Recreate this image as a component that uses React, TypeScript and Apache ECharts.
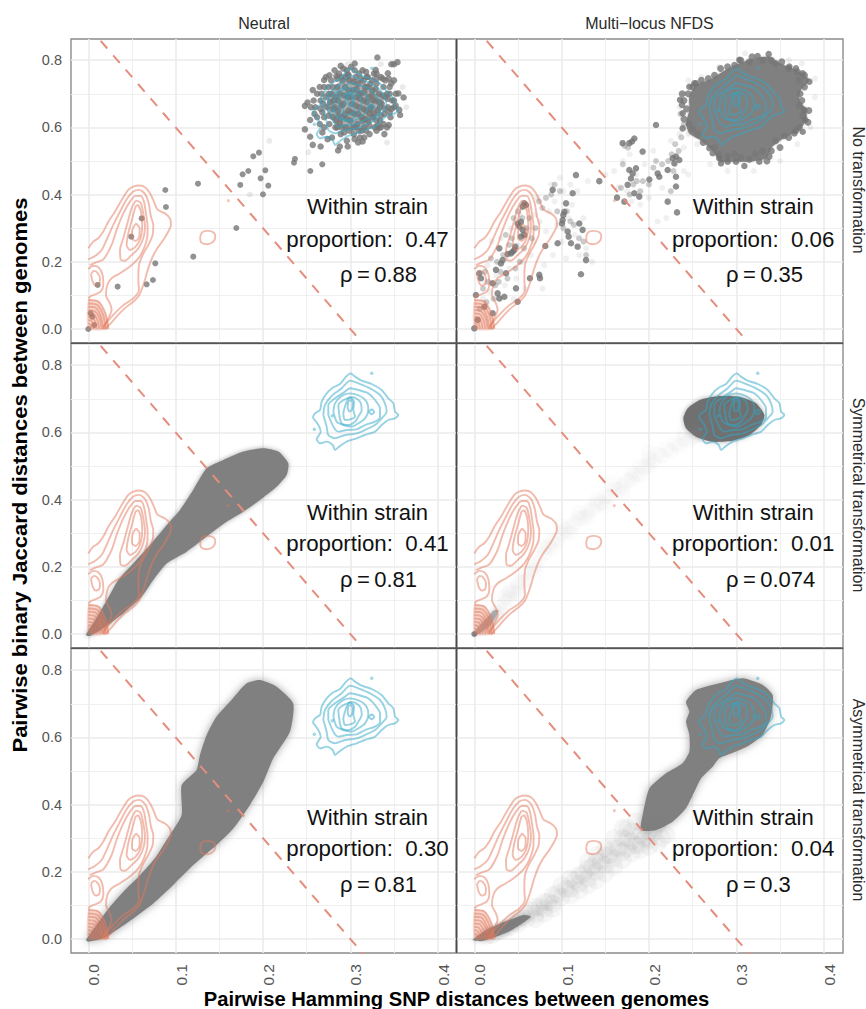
import React, { useEffect, useRef } from "react";
import * as echarts from "echarts";

const FONT = '"Liberation Sans", Arial, sans-serif';

const columnTitles = ["Neutral", "Multi\u2212locus NFDS"];
const rowTitles = ["No transformation", "Symmetrical transformation", "Asymmetrical transformation"];
const proportions = ["0.47", "0.06", "0.41", "0.01", "0.30", "0.04"];
const rhos = ["0.88", "0.35", "0.81", "0.074", "0.81", "0.3"];

const xTicks = [0, 0.1, 0.2, 0.3, 0.4];
const yTicks = [0, 0.2, 0.4, 0.6, 0.8];
const xMinorGrid = [0.05, 0.15, 0.25, 0.35];
const yMinorGrid = [0.1, 0.3, 0.5, 0.7];
const dashedLine = [[0, 0.9], [0.32, -0.06]];

// Red (between-strain) density contours
const red1 = [[0,0.24],[0.0057,0.26],[0.0115,0.27],[0.0172,0.29],[0.0229,0.319],[0.0305,0.349],[0.0382,0.384],[0.0458,0.414],[0.0515,0.424],[0.0584,0.427],[0.0649,0.422],[0.0706,0.404],[0.0752,0.379],[0.079,0.356],[0.0878,0.344],[0.0935,0.329],[0.0947,0.31],[0.0916,0.29],[0.0859,0.265],[0.079,0.24],[0.0737,0.215],[0.0687,0.181],[0.0637,0.136],[0.0584,0.101],[0.0515,0.081],[0.042,0.062],[0.0324,0.037],[0.024,0.012],[0.0191,0]];
const red2 = [[0,0.207],[0.0076,0.217],[0.0153,0.235],[0.0218,0.27],[0.0286,0.31],[0.0363,0.349],[0.0439,0.386],[0.0515,0.409],[0.0584,0.414],[0.0649,0.402],[0.0691,0.374],[0.0718,0.334],[0.0744,0.31],[0.0737,0.28],[0.0687,0.25],[0.0622,0.22],[0.058,0.19],[0.0573,0.146],[0.058,0.116],[0.0515,0.091],[0.0401,0.071],[0.0286,0.042],[0.0172,0.007]];
const red3 = [[0.0019,0.19],[0.0076,0.197],[0.0172,0.207],[0.0267,0.25],[0.0324,0.295],[0.0401,0.344],[0.0477,0.379],[0.0542,0.396],[0.0599,0.396],[0.0637,0.379],[0.066,0.344],[0.0679,0.305],[0.0676,0.275],[0.0637,0.24],[0.0573,0.21],[0.0477,0.186],[0.0363,0.166],[0.0267,0.151],[0.0218,0.131],[0.0202,0.101],[0.0248,0.076],[0.0267,0.057],[0.021,0.022],[0.0172,0]];
const red4 = [[0.0542,0.382],[0.0599,0.376],[0.063,0.344],[0.0649,0.305],[0.063,0.27],[0.0573,0.24],[0.0496,0.22],[0.042,0.203],[0.037,0.207],[0.0363,0.235],[0.0401,0.27],[0.0447,0.314],[0.0496,0.359],[0.0542,0.382]];
const red5 = [[0.0573,0.369],[0.0603,0.349],[0.0618,0.31],[0.0599,0.27],[0.0542,0.245],[0.0477,0.235],[0.0439,0.25],[0.0458,0.285],[0.0504,0.329],[0.0542,0.364],[0.0573,0.369]];
const red6 = [[0.0546,0.314],[0.0588,0.3],[0.0584,0.275],[0.0542,0.262],[0.05,0.27],[0.0504,0.295],[0.0546,0.314]];
const redLobe1 = [[0,0.178],[0.0057,0.188],[0.0115,0.184],[0.016,0.164],[0.0172,0.131],[0.0141,0.111],[0.0088,0.104],[0.0027,0.098],[0,0.091]];
const redLobe2 = [[0.0031,0.164],[0.0065,0.173],[0.0103,0.168],[0.0134,0.151],[0.0126,0.134],[0.0088,0.129],[0.005,0.141],[0.0031,0.164]];
const redFan1 = [[0,0.086],[0.0115,0.082],[0.0195,0.047],[0.0229,0]];
const redFan2 = [[0,0.076],[0.01,0.072],[0.017,0.042],[0.02,0]];
const redFan3 = [[0,0.066],[0.0086,0.063],[0.0146,0.036],[0.0172,0]];
const redFan4 = [[0,0.056],[0.0076,0.053],[0.013,0.031],[0.0153,0]];
const redFan5 = [[0,0.046],[0.0063,0.044],[0.0107,0.025],[0.0126,0]];
const redFan6 = [[0,0.036],[0.0048,0.034],[0.0081,0.02],[0.0095,0]];
const redFan7 = [[0,0.026],[0.0033,0.025],[0.0055,0.014],[0.0065,0]];
const redFan8 = [[0,0.016],[0.0019,0.015],[0.0032,0.009],[0.0038,0]];
const redFanFill = [[0,0.088],[0.0115,0.084],[0.0195,0.049],[0.0235,0],[0,0]];
const redRing = [[0.128,0.272],[0.13,0.287],[0.1366,0.292],[0.1435,0.287],[0.1454,0.275],[0.143,0.26],[0.1366,0.252],[0.1295,0.257],[0.128,0.272]];
const redContours = [red1, red2, red3, red4, red5, red6, redLobe1, redLobe2, redFan1, redFan2, redFan3, redFan4, redFan5, redFan6, redFan7, redFan8, redRing];
const redDots = [[0.1604, 0.382]];

// Blue (within-strain) density contours
const blue1 = [[0.2569,0.6449],[0.2596,0.6568],[0.2653,0.6667],[0.2672,0.6915],[0.2729,0.7163],[0.2806,0.7342],[0.2882,0.7441],[0.2951,0.7659],[0.3004,0.7758],[0.3054,0.7659],[0.313,0.754],[0.3245,0.7441],[0.3359,0.7262],[0.3435,0.7014],[0.3493,0.6865],[0.3512,0.6617],[0.355,0.6518],[0.3512,0.6419],[0.3435,0.6369],[0.3359,0.622],[0.3283,0.6022],[0.3168,0.5923],[0.3073,0.5824],[0.2958,0.5724],[0.2863,0.5556],[0.2825,0.5476],[0.2798,0.5625],[0.2729,0.5724],[0.2653,0.5675],[0.2615,0.5794],[0.2661,0.6022],[0.2634,0.622],[0.2569,0.6449]];
const blue2 = [[0.2691,0.6518],[0.271,0.6816],[0.2787,0.7084],[0.2901,0.7312],[0.2997,0.754],[0.3092,0.7461],[0.3226,0.7312],[0.334,0.7113],[0.3397,0.6865],[0.3416,0.6617],[0.3359,0.6419],[0.3283,0.622],[0.3168,0.6072],[0.3073,0.5973],[0.2939,0.5923],[0.2825,0.5824],[0.2748,0.5923],[0.2729,0.6171],[0.2691,0.6518]];
const blue3 = [[0.2748,0.6518],[0.2748,0.6816],[0.2825,0.7014],[0.2939,0.7213],[0.2997,0.7312],[0.3092,0.7262],[0.3206,0.7163],[0.3283,0.6965],[0.334,0.6716],[0.334,0.6469],[0.3283,0.632],[0.3168,0.622],[0.3073,0.6092],[0.2958,0.6072],[0.2863,0.6022],[0.2806,0.6171],[0.2748,0.6518]];
const blue4 = [[0.2806,0.6617],[0.2825,0.6865],[0.2901,0.7084],[0.2997,0.7163],[0.3111,0.7084],[0.3187,0.6915],[0.3206,0.6667],[0.3168,0.6419],[0.3092,0.627],[0.3016,0.6171],[0.292,0.622],[0.2844,0.632],[0.2806,0.6617]];
const blue5 = [[0.2874,0.6518],[0.2863,0.6816],[0.2939,0.6984],[0.3035,0.7044],[0.3111,0.6915],[0.313,0.6667],[0.3092,0.6469],[0.3054,0.632],[0.2977,0.622],[0.2901,0.627],[0.2874,0.6518]];
const blue6 = [[0.2958,0.6915],[0.2997,0.7044],[0.3042,0.6915],[0.3035,0.6667],[0.3054,0.6469],[0.2997,0.6389],[0.2939,0.6369],[0.292,0.6568],[0.2939,0.6766],[0.2958,0.6915]];
const blue7 = [[0.2977,0.6915],[0.3004,0.6965],[0.3027,0.6865],[0.3016,0.6667],[0.2989,0.6617],[0.297,0.6766],[0.2977,0.6915]];
const blueRing = [[0.3245,0.6697],[0.3275,0.6617],[0.3245,0.6537],[0.3215,0.6617],[0.3245,0.6697]];
const blueContours = [blue1, blue2, blue3, blue4, blue5, blue6, blue7, blueRing];
const blueDots = [[0.3245,0.7758],[0.2588,0.6091],[0.2794,0.6498]];

// Neutral, no transformation
const neutralLowDots = [[0,0],[0.0027,0.0466],[0.0046,0.0367],[0.0069,0.0119],[0.0107,0.131],[0.0336,0.126],[0.0492,0.2748],[0.0611,0.3294],[0.0668,0.1329],[0.074,0.1458],[0.0767,0.1954],[0.0882,0.4137],[0.0889,0.3631],[0.1202,0.2153],[0.1256,0.4325],[0.1695,0.3006],[0.174,0.4286],[0.1767,0.4603],[0.1832,0.4702],[0.1889,0.5139],[0.1954,0.5248],[0.1973,0.4484],[0.2,0.4008],[0.2027,0.4722],[0.2061,0.4266],[0.2355,0.495],[0.2366,0.506],[0.2542,0.4702],[0.2679,0.4901]];
const neutralEdgeDots = [[0.331,0.808],[0.354,0.794],[0.35,0.788],[0.347,0.788],[0.343,0.761],[0.329,0.771],[0.289,0.783],[0.284,0.753],[0.297,0.758],[0.27,0.741],[0.257,0.711],[0.251,0.674],[0.248,0.664],[0.254,0.622],[0.248,0.594],[0.254,0.572],[0.257,0.548],[0.266,0.543],[0.286,0.531],[0.288,0.543],[0.297,0.543],[0.309,0.555],[0.314,0.558],[0.333,0.599],[0.339,0.58],[0.344,0.607],[0.357,0.637],[0.361,0.689],[0.355,0.701],[0.347,0.731],[0.356,0.652]];
const neutralCoreDots = [[0.262,0.7],[0.266,0.68],[0.27,0.72],[0.273,0.66],[0.275,0.7],[0.278,0.74],[0.28,0.63],[0.281,0.68],[0.283,0.6],[0.285,0.72],[0.286,0.65],[0.288,0.7],[0.289,0.58],[0.29,0.75],[0.291,0.63],[0.292,0.67],[0.294,0.72],[0.295,0.6],[0.296,0.56],[0.297,0.69],[0.298,0.65],[0.299,0.74],[0.3,0.62],[0.301,0.78],[0.302,0.67],[0.303,0.71],[0.304,0.58],[0.305,0.64],[0.306,0.75],[0.307,0.69],[0.308,0.61],[0.309,0.73],[0.31,0.66],[0.311,0.57],[0.312,0.7],[0.313,0.63],[0.314,0.77],[0.315,0.68],[0.316,0.6],[0.317,0.72],[0.318,0.65],[0.319,0.75],[0.32,0.62],[0.321,0.69],[0.322,0.58],[0.323,0.73],[0.324,0.66],[0.325,0.71],[0.326,0.63],[0.327,0.76],[0.328,0.6],[0.329,0.68],[0.33,0.73],[0.331,0.65],[0.333,0.7],[0.334,0.62],[0.335,0.75],[0.336,0.67],[0.338,0.72],[0.339,0.64],[0.34,0.69],[0.342,0.6],[0.343,0.66],[0.345,0.72],[0.346,0.63],[0.348,0.68],[0.35,0.66],[0.352,0.7],[0.268,0.645],[0.27,0.6],[0.276,0.61],[0.274,0.565],[0.279,0.57],[0.265,0.72],[0.258,0.68],[0.26,0.66],[0.255,0.66],[0.262,0.63],[0.265,0.61],[0.268,0.585],[0.272,0.75],[0.276,0.755],[0.282,0.77],[0.287,0.76],[0.292,0.775],[0.296,0.77],[0.305,0.79],[0.31,0.76],[0.315,0.74],[0.32,0.75],[0.33,0.76],[0.337,0.745],[0.34,0.74],[0.344,0.745],[0.35,0.74],[0.284,0.62],[0.29,0.6],[0.294,0.64],[0.3,0.69],[0.306,0.6],[0.31,0.7],[0.314,0.62],[0.318,0.59],[0.322,0.64],[0.326,0.68],[0.33,0.62],[0.334,0.66],[0.338,0.61],[0.342,0.7],[0.278,0.7],[0.282,0.66],[0.286,0.68]];
const neutralExtraDots = [[0.283,0.69],[0.287,0.635],[0.29,0.665],[0.293,0.695],[0.296,0.625],[0.298,0.71],[0.301,0.645],[0.303,0.6],[0.304,0.735],[0.306,0.665],[0.307,0.715],[0.309,0.64],[0.311,0.685],[0.312,0.745],[0.313,0.59],[0.315,0.655],[0.316,0.705],[0.317,0.625],[0.319,0.675],[0.32,0.72],[0.322,0.605],[0.323,0.655],[0.325,0.695],[0.327,0.64],[0.329,0.715],[0.331,0.605],[0.333,0.675],[0.335,0.635],[0.337,0.695],[0.34,0.655],[0.343,0.685],[0.345,0.645],[0.28,0.655],[0.277,0.675],[0.275,0.635],[0.272,0.69],[0.269,0.67],[0.267,0.7],[0.285,0.6],[0.288,0.615],[0.293,0.585],[0.299,0.59],[0.305,0.565],[0.31,0.59],[0.316,0.57],[0.33,0.59],[0.335,0.6],[0.305,0.77],[0.298,0.755],[0.291,0.74],[0.285,0.745],[0.318,0.765],[0.325,0.74],[0.33,0.745],[0.345,0.7],[0.35,0.68],[0.347,0.655],[0.352,0.665],[0.27,0.63],[0.259,0.64],[0.266,0.655],[0.275,0.72],[0.28,0.72],[0.295,0.75]];
const neutralPaleDots = [[0.2073,0.56],[0.2519,0.526],[0.297,0.788],[0.335,0.788],[0.349,0.79],[0.36,0.72],[0.364,0.66],[0.342,0.555],[0.185,0.4]];
const neutralCoreFill = [[0.272,0.66],[0.277,0.7],[0.287,0.735],[0.3,0.75],[0.315,0.735],[0.327,0.72],[0.337,0.695],[0.338,0.66],[0.329,0.625],[0.318,0.6],[0.302,0.59],[0.288,0.6],[0.278,0.625]];

// Multi-locus NFDS, no transformation
const nfdsDarkDots = [[0.0573,0.374],[0.0592,0.369],[0.0553,0.364],[0.0534,0.319],[0.0496,0.314],[0.0515,0.305],[0.0553,0.295],[0.0573,0.28],[0.0534,0.275],[0.0469,0.245],[0.0458,0.235],[0.042,0.225],[0.0439,0.23],[0.0382,0.223],[0.0324,0.205],[0.0305,0.195],[0.0286,0.24],[0.0267,0.106],[0.0286,0.091],[0.0344,0.096],[0.0477,0.121],[0.0496,0.081],[0.0744,0.161],[0.0752,0.151],[0.0637,0.151],[0.0057,0.166],[0.0076,0.151],[0.0019,0.101],[0.021,0.047],[0,0.002],[0.0038,0.027],[0.0115,0.066],[0.0363,0.166],[0.0248,0.176],[0.021,0.136],[0.1011,0.324],[0.1019,0.339],[0.1031,0.349],[0.1004,0.314],[0.1069,0.29],[0.108,0.275],[0.1107,0.255],[0.1183,0.245],[0.1202,0.314],[0.124,0.295],[0.1279,0.205],[0.1221,0.163],[0.0954,0.255],[0.0813,0.247],[0.0897,0.414],[0.1164,0.458],[0.1431,0.44],[0.1126,0.404],[0.105,0.374],[0.1634,0.391],[0.1718,0.379],[0.1775,0.553],[0.1698,0.553],[0.1832,0.567],[0.1805,0.558],[0.208,0.607],[0.1813,0.463],[0.1775,0.473],[0.1851,0.478],[0.1794,0.448],[0.1756,0.429],[0.1832,0.404],[0.1889,0.394],[0.2004,0.445],[0.2118,0.453],[0.2099,0.463],[0.2214,0.473],[0.2309,0.513],[0.2271,0.508],[0.2347,0.503],[0.229,0.493],[0.2309,0.453],[0.2309,0.424],[0.2321,0.347],[0.2214,0.379],[0.1927,0.528],[0.2385,0.597],[0.2355,0.682],[0.2378,0.667],[0.2519,0.731],[0.3034,0.801],[0.3244,0.812],[0.337,0.818],[0.3607,0.781],[0.3836,0.736],[0.3779,0.652],[0.379,0.622],[0.376,0.587],[0.3664,0.582],[0.3378,0.513],[0.3263,0.498],[0.3092,0.485],[0.2996,0.498],[0.2901,0.498],[0.2824,0.493],[0.2805,0.508],[0.2729,0.523],[0.2691,0.538],[0.2538,0.731],[0.2462,0.721],[0.2385,0.642],[0.376,0.761],[0.3683,0.776]];
const nfdsEdgeDots = [[0.26,0.74],[0.268,0.745],[0.275,0.755],[0.282,0.775],[0.29,0.78],[0.298,0.785],[0.305,0.8],[0.315,0.795],[0.318,0.81],[0.33,0.8],[0.34,0.8],[0.345,0.79],[0.352,0.795],[0.36,0.775],[0.37,0.765],[0.378,0.755],[0.372,0.74],[0.378,0.72],[0.373,0.7],[0.375,0.68],[0.372,0.665],[0.383,0.65],[0.376,0.635],[0.382,0.615],[0.372,0.6],[0.368,0.59],[0.36,0.57],[0.355,0.575],[0.345,0.56],[0.35,0.54],[0.34,0.53],[0.33,0.53],[0.335,0.5],[0.322,0.52],[0.315,0.505],[0.305,0.51],[0.298,0.52],[0.29,0.515],[0.28,0.52],[0.275,0.54],[0.262,0.555],[0.256,0.58],[0.25,0.595],[0.246,0.61],[0.24,0.625],[0.243,0.655],[0.24,0.68],[0.245,0.7],[0.25,0.72],[0.238,0.7]];
const nfdsMidDots = [[0.006,0.06],[0.01,0.12],[0.012,0.17],[0.014,0.08],[0.016,0.14],[0.019,0.21],[0.022,0.09],[0.024,0.13],[0.026,0.2],[0.028,0.14],[0.03,0.17],[0.033,0.22],[0.036,0.28],[0.038,0.15],[0.04,0.25],[0.043,0.27],[0.045,0.33],[0.047,0.18],[0.05,0.35],[0.052,0.2],[0.055,0.33],[0.057,0.24],[0.06,0.3],[0.063,0.33],[0.066,0.27],[0.07,0.3],[0.074,0.38],[0.078,0.36],[0.082,0.39],[0.088,0.4],[0.092,0.43],[0.095,0.35],[0.098,0.41],[0.102,0.3],[0.106,0.35],[0.11,0.32],[0.114,0.31],[0.12,0.27],[0.125,0.26],[0.128,0.22],[0.168,0.42],[0.17,0.49],[0.172,0.545],[0.176,0.54],[0.178,0.4],[0.182,0.43],[0.186,0.44],[0.19,0.41],[0.193,0.44],[0.2,0.43],[0.205,0.48],[0.208,0.5],[0.215,0.49],[0.222,0.5],[0.226,0.52],[0.23,0.55],[0.234,0.53],[0.237,0.57],[0.24,0.61],[0.236,0.64],[0.228,0.47],[0.225,0.41]];
const nfdsPaleDots = [[0.005,0.03],[0.01,0.09],[0.012,0.14],[0.015,0.19],[0.018,0.11],[0.02,0.26],[0.025,0.16],[0.03,0.09],[0.03,0.27],[0.035,0.13],[0.037,0.21],[0.04,0.18],[0.042,0.3],[0.045,0.09],[0.048,0.15],[0.05,0.25],[0.052,0.34],[0.055,0.2],[0.058,0.12],[0.06,0.29],[0.062,0.36],[0.065,0.22],[0.068,0.26],[0.07,0.34],[0.072,0.39],[0.075,0.32],[0.078,0.12],[0.08,0.19],[0.082,0.29],[0.085,0.35],[0.088,0.43],[0.09,0.22],[0.092,0.38],[0.095,0.31],[0.098,0.45],[0.1,0.26],[0.102,0.41],[0.105,0.21],[0.108,0.33],[0.11,0.43],[0.112,0.37],[0.115,0.28],[0.118,0.41],[0.12,0.22],[0.125,0.33],[0.128,0.24],[0.13,0.44],[0.135,0.2],[0.15,0.46],[0.16,0.47],[0.165,0.42],[0.17,0.5],[0.175,0.41],[0.178,0.52],[0.18,0.38],[0.185,0.46],[0.19,0.37],[0.195,0.49],[0.2,0.39],[0.205,0.53],[0.21,0.32],[0.215,0.42],[0.22,0.33],[0.225,0.56],[0.23,0.49],[0.24,0.47],[0.245,0.46],[0.235,0.58],[0.24,0.54],[0.24,0.7],[0.235,0.66],[0.245,0.74],[0.26,0.75],[0.28,0.78],[0.31,0.82],[0.36,0.8],[0.375,0.79],[0.39,0.745],[0.39,0.69],[0.385,0.6],[0.37,0.55],[0.35,0.5],[0.32,0.47],[0.29,0.47],[0.27,0.49],[0.255,0.55],[0.245,0.58]];
const nfdsBlob = [[0.2462,0.6915],[0.2538,0.7262],[0.2691,0.7411],[0.2844,0.7659],[0.3034,0.7907],[0.3225,0.8056],[0.3378,0.8105],[0.3492,0.7907],[0.3683,0.7708],[0.3836,0.7411],[0.374,0.712],[0.372,0.682],[0.38,0.652],[0.38,0.622],[0.372,0.592],[0.357,0.572],[0.341,0.542],[0.334,0.508],[0.315,0.498],[0.296,0.498],[0.281,0.498],[0.274,0.528],[0.259,0.562],[0.2462,0.582],[0.2424,0.612],[0.2462,0.652]];

// Dense point clouds, outlined
const symNeutralBlob = [[-0.0027,-0.003],[0.0057,0.032],[0.0191,0.091],[0.0344,0.161],[0.0515,0.21],[0.0706,0.265],[0.0897,0.324],[0.105,0.369],[0.1202,0.429],[0.1355,0.493],[0.1546,0.518],[0.1775,0.543],[0.2004,0.553],[0.2176,0.543],[0.229,0.508],[0.2271,0.473],[0.2156,0.438],[0.1966,0.399],[0.1775,0.364],[0.1584,0.334],[0.1355,0.29],[0.1126,0.245],[0.0897,0.21],[0.0744,0.161],[0.0611,0.111],[0.0401,0.062],[0.0172,0.017],[0.0019,-0.006]];
const asymNeutralBlob = [[-0.0027,-0.003],[0.0095,0.042],[0.0248,0.096],[0.042,0.146],[0.0592,0.19],[0.0763,0.24],[0.0935,0.31],[0.1069,0.369],[0.1069,0.458],[0.124,0.503],[0.1279,0.548],[0.1355,0.607],[0.1469,0.662],[0.1622,0.706],[0.1813,0.761],[0.1966,0.771],[0.2156,0.751],[0.2347,0.701],[0.2309,0.617],[0.2118,0.538],[0.2004,0.468],[0.1851,0.399],[0.166,0.329],[0.1469,0.28],[0.1202,0.22],[0.0973,0.161],[0.0744,0.106],[0.0439,0.047],[0.0172,0.002],[0,-0.008]];
const symNfdsBlob = [[0.2393,0.642],[0.2443,0.672],[0.2576,0.696],[0.2805,0.708],[0.3034,0.706],[0.3225,0.687],[0.3321,0.652],[0.3282,0.622],[0.3149,0.592],[0.2958,0.575],[0.2729,0.572],[0.2538,0.587],[0.2424,0.612]];
const symNfdsTailDots = [[0.25,0.585],[0.245,0.575],[0.24,0.58],[0.235,0.56],[0.23,0.565],[0.225,0.545],[0.22,0.55],[0.215,0.53],[0.21,0.535],[0.205,0.515],[0.2,0.52],[0.2,0.5],[0.195,0.495],[0.19,0.5],[0.19,0.475],[0.185,0.475],[0.18,0.46],[0.175,0.455],[0.17,0.44],[0.165,0.43],[0.16,0.43],[0.155,0.41],[0.15,0.41],[0.145,0.39],[0.14,0.385],[0.135,0.37],[0.13,0.365],[0.125,0.345],[0.12,0.345],[0.115,0.33],[0.11,0.32],[0.105,0.31],[0.1,0.3],[0.095,0.28],[0.09,0.275],[0.085,0.26],[0.08,0.24],[0.075,0.225],[0.07,0.205],[0.065,0.19],[0.06,0.18],[0.055,0.155],[0.05,0.14],[0.05,0.12],[0.045,0.125],[0.04,0.105],[0.04,0.12],[0.035,0.095],[0.03,0.08],[0.03,0.065],[0.025,0.065],[0.025,0.05],[0.02,0.05],[0.02,0.035],[0.015,0.03],[0.015,0.04],[0.01,0.02],[0.01,0.03],[0.255,0.59],[0.26,0.595],[0.25,0.605],[0.24,0.6],[0.2,0.54],[0.18,0.48],[0.16,0.45],[0.14,0.4],[0.12,0.36],[0.1,0.32],[0.08,0.26],[0.17,0.42],[0.15,0.38],[0.13,0.35],[0.11,0.3],[0.09,0.255],[0.07,0.19],[0.06,0.16],[0.05,0.155],[0.04,0.13],[0.035,0.11]];
const symNfdsOrigin = [[-0.002,-0.004],[0.004,0.02],[0.015,0.05],[0.022,0.07],[0.028,0.07],[0.02,0.03],[0.008,0.005],[0,-0.006]];
const originDot = [[0, 0]];
const asymNfdsBlob = [[0.2462,0.677],[0.2424,0.706],[0.2538,0.741],[0.2805,0.761],[0.3073,0.776],[0.3302,0.756],[0.3416,0.726],[0.3397,0.662],[0.3302,0.607],[0.3149,0.577],[0.2996,0.558],[0.2805,0.538],[0.2729,0.513],[0.2595,0.478],[0.2519,0.438],[0.2424,0.389],[0.2271,0.349],[0.208,0.324],[0.1908,0.324],[0.1927,0.369],[0.2004,0.448],[0.2195,0.493],[0.2385,0.523],[0.2462,0.558],[0.2462,0.607],[0.2424,0.647]];
const asymNfdsTailDots = [[0.21,0.34],[0.205,0.315],[0.2,0.32],[0.195,0.3],[0.19,0.31],[0.185,0.28],[0.18,0.29],[0.175,0.27],[0.17,0.26],[0.165,0.27],[0.16,0.24],[0.155,0.25],[0.15,0.22],[0.145,0.23],[0.14,0.2],[0.135,0.215],[0.13,0.18],[0.125,0.195],[0.12,0.165],[0.115,0.175],[0.11,0.15],[0.105,0.15],[0.1,0.125],[0.095,0.135],[0.09,0.105],[0.085,0.11],[0.08,0.09],[0.075,0.095],[0.07,0.075],[0.065,0.085],[0.06,0.06],[0.055,0.065],[0.05,0.045],[0.045,0.05],[0.04,0.035],[0.035,0.03],[0.03,0.025],[0.025,0.02],[0.02,0.012],[0.015,0.01],[0.17,0.3],[0.18,0.32],[0.19,0.28],[0.2,0.295],[0.215,0.3],[0.22,0.31],[0.175,0.3],[0.16,0.27],[0.15,0.25],[0.14,0.23],[0.13,0.21],[0.12,0.19],[0.16,0.3],[0.175,0.33],[0.185,0.35],[0.17,0.33],[0.15,0.27],[0.14,0.25],[0.13,0.23],[0.11,0.18],[0.1,0.16],[0.09,0.13],[0.08,0.11],[0.07,0.095],[0.11,0.13],[0.12,0.145],[0.13,0.16],[0.14,0.175],[0.15,0.195],[0.16,0.215],[0.17,0.235],[0.18,0.255],[0.19,0.265],[0.2,0.275],[0.21,0.285],[0.05,0.06],[0.06,0.075],[0.07,0.06],[0.08,0.075],[0.09,0.09]];
const asymNfdsOrigin = [[-0.002,-0.003],[0.0172,0.032],[0.0553,0.071],[0.0649,0.066],[0.0401,0.022],[0.0095,-0.006]];

const AXIS_X_MIN = -0.0198;
const AXIS_Y_MIN = -0.0417;
const panelCols = [{ left: 71, width: 385, max: 0.421 }, { left: 457, width: 386, max: 0.4221 }];
const panelRows = [{ top: 39, height: 304, max: 0.863 }, { top: 343.5, height: 304.5, max: 0.8646 }, { top: 648.5, height: 304.5, max: 0.8646 }];

const GREY = "#808080";

function blob(points: number[][], fill: string, blur: number, idx: number, z = 2, haze = "rgba(128,128,128,0.7)") {
  return {
    type: "custom", coordinateSystem: "cartesian2d", xAxisIndex: idx, yAxisIndex: idx, silent: true, z,
    data: [points[0]],
    renderItem: (_p: any, api: any) => ({
      type: "polygon",
      shape: { points: points.map((pt) => api.coord(pt)), smooth: 0.2 },
      style: { fill, shadowBlur: blur, shadowColor: haze },
    }),
  };
}

function dots(data: number[][], size: number, color: string, idx: number, z = 3, blur = 0) {
  return { type: "scatter", xAxisIndex: idx, yAxisIndex: idx, data, symbolSize: size, silent: true, z, itemStyle: blur ? { color, borderWidth: 0, shadowBlur: blur, shadowColor: color } : { color, borderWidth: 0 } };
}

function contour(data: number[][], color: string, idx: number) {
  return { type: "line", xAxisIndex: idx, yAxisIndex: idx, data, smooth: 0.25, symbol: "none", showSymbol: false, silent: true, z: 5, lineStyle: { color, width: 1.9 } };
}

function gridLines(idx: number) {
  const major = { color: "#ebebeb", width: 1.6, type: "solid" };
  const minor = { color: "#f0f0f0", width: 1.1, type: "solid" };
  return {
    type: "line", xAxisIndex: idx, yAxisIndex: idx, data: [], silent: true, z: 1,
    markLine: {
      silent: true, symbol: "none", z: 1, label: { show: false }, animation: false,
      data: [
        ...xMinorGrid.map((v) => ({ xAxis: v, lineStyle: minor })),
        ...yMinorGrid.map((v) => ({ yAxis: v, lineStyle: minor })),
        ...xTicks.map((v) => ({ xAxis: v, lineStyle: major })),
        ...yTicks.map((v) => ({ yAxis: v, lineStyle: major })),
      ],
    },
  };
}

function panelSeries(row: number, col: number) {
  const idx = row * 2 + col;
  const s: any[] = [gridLines(idx)];
  if (idx === 0) {
    s.push(dots(neutralPaleDots, 6, "rgba(120,120,120,0.18)", idx));
    s.push(blob(neutralCoreFill, "rgba(119,119,119,0.6)", 0, idx, 2, "rgba(0,0,0,0)"));
    s.push(dots(neutralLowDots, 6, "#777777", idx));
    s.push(dots(neutralEdgeDots, 6.5, "#777777", idx));
    s.push(dots(neutralCoreDots, 6.5, "#777777", idx));
    s.push(dots(neutralExtraDots, 6.5, "#777777", idx));
  } else if (idx === 1) {
    s.push(dots(nfdsPaleDots, 6, "rgba(120,120,120,0.14)", idx));
    s.push(dots(nfdsMidDots, 6, "rgba(110,110,110,0.45)", idx));
    s.push(blob(nfdsBlob, GREY, 2, idx));
    s.push(dots(nfdsEdgeDots, 7, "#777777", idx));
    s.push(dots(nfdsDarkDots, 6.5, "#737373", idx));
  } else if (idx === 2) {
    s.push(blob(symNeutralBlob, GREY, 5, idx));
  } else if (idx === 3) {
    s.push(dots(symNfdsTailDots, 16, "rgba(130,130,130,0.035)", idx, 2, 6));
    s.push(blob(symNfdsOrigin, "rgba(110,110,110,0.45)", 4, idx));
    s.push(blob(symNfdsBlob, "#707070", 5, idx));
    s.push(dots(originDot, 6, "#6f6f6f", idx));
  } else if (idx === 4) {
    s.push(blob(asymNeutralBlob, GREY, 9, idx));
  } else {
    s.push(dots(asymNfdsTailDots, 18, "rgba(125,125,125,0.075)", idx, 2, 6));
    s.push(blob(asymNfdsOrigin, "rgba(110,110,110,0.8)", 4, idx));
    s.push(blob(asymNfdsBlob, GREY, 9, idx));
  }
  s.push(blob(redFanFill, "rgba(228,122,94,0.3)", 0, idx, 5, "rgba(0,0,0,0)"));
  redContours.forEach((c) => s.push(contour(c, "rgba(228,122,94,0.5)", idx)));
  s.push(dots(redDots, 3, "rgba(228,122,94,0.55)", idx, 5));
  blueContours.forEach((c) => s.push(contour(c, "rgba(47,168,200,0.5)", idx)));
  s.push(dots(blueDots, 3.5, "rgba(47,168,200,0.55)", idx, 5));
  s.push({ type: "line", xAxisIndex: idx, yAxisIndex: idx, data: dashedLine, symbol: "none", silent: true, z: 6, lineStyle: { color: "#e58d7d", width: 2, type: [10, 9] } });
  return s;
}

function text(x: number, y: number, t: string, fontSize: number, opts: any = {}) {
  const { rotation, fontWeight, fill, align, scaleX } = opts;
  return {
    type: "text", x, y, rotation: rotation || 0, scaleX: scaleX || 1, silent: true, z: 20,
    style: { text: t, fontSize, fontFamily: FONT, fontWeight: fontWeight || "normal", fill: fill || "#111", align: align || "center", verticalAlign: "middle" },
  };
}

const annotationLayout = [
  { cx: 367.5, rhoX: 340 },
  { cx: 753.2, rhoX: 726 },
];
const annotationRows = [[206, 239, 274], [512, 543.5, 579.5], [817, 848.5, 884.5]];

export default function App() {
  const ref = useRef<HTMLDivElement>(null);
  useEffect(() => {
    const chart = echarts.init(ref.current!, undefined, { renderer: "svg" });
    const grids: any[] = [];
    const xAxes: any[] = [];
    const yAxes: any[] = [];
    const series: any[] = [];
    const graphics: any[] = [];
    panelRows.forEach((r, ri) => {
      panelCols.forEach((c, ci) => {
        grids.push({ left: c.left, top: r.top, width: c.width, height: r.height, show: true, borderColor: "#8c8c8c", borderWidth: 1.4, backgroundColor: "#fff", containLabel: false });
        xAxes.push({
          type: "value", gridIndex: ri * 2 + ci, min: AXIS_X_MIN, max: c.max, position: "bottom",
          axisLine: { show: false }, axisTick: { show: false }, splitLine: { show: false }, minorSplitLine: { show: false },
          axisLabel: ri === 2
            ? { show: true, customValues: xTicks, rotate: 90, margin: 11, fontSize: 15.5, lineHeight: 11, color: "#555", fontFamily: FONT, verticalAlign: "top", formatter: (v: number) => v.toFixed(1) }
            : { show: false },
        });
        yAxes.push({
          type: "value", gridIndex: ri * 2 + ci, min: AXIS_Y_MIN, max: r.max,
          axisLine: { show: false }, axisTick: { show: false }, splitLine: { show: false }, minorSplitLine: { show: false },
          axisLabel: ci === 0
            ? { show: true, customValues: yTicks, margin: 9, fontSize: 14.5, color: "#555", fontFamily: FONT, formatter: (v: number) => v.toFixed(1) }
            : { show: false },
        });
        series.push(...panelSeries(ri, ci));
        const a = annotationLayout[ci];
        const ys = annotationRows[ri];
        const i = ri * 2 + ci;
        graphics.push(text(a.cx, ys[0], "Within strain", 22));
        graphics.push(text(a.cx, ys[1], `proportion:  ${proportions[i]}`, 22.3));
        graphics.push(text(a.rhoX, ys[2], `\u03c1\u2009=\u2009${rhos[i]}`, 22, { align: "left" }));
      });
    });
    graphics.push({ type: "line", z: 15, silent: true, shape: { x1: 456.5, y1: 39, x2: 456.5, y2: 953 }, style: { stroke: "#4a4a4a", lineWidth: 1.2 } });
    graphics.push({ type: "line", z: 15, silent: true, shape: { x1: 71, y1: 343.3, x2: 843, y2: 343.3 }, style: { stroke: "#555", lineWidth: 1.4 } });
    graphics.push({ type: "line", z: 15, silent: true, shape: { x1: 71, y1: 648.3, x2: 843, y2: 648.3 }, style: { stroke: "#555", lineWidth: 1.4 } });
    graphics.push(text(264, 23, columnTitles[0], 16, { fill: "#2b2b2b" }));
    graphics.push(text(649.5, 23, columnTitles[1], 16, { fill: "#2b2b2b" }));
    [190, 495, 800].forEach((y, i) => graphics.push(text(858, y, rowTitles[i], 16, { rotation: -Math.PI / 2, fill: "#2b2b2b" })));
    graphics.push(text(456.5, 999, "Pairwise Hamming SNP distances between genomes", 20.2, { fontWeight: "bold", fill: "#000" }));
    graphics.push(text(20, 475, "Pairwise binary Jaccard distances between genomes", 20.2, { fontWeight: "bold", fill: "#000", rotation: Math.PI / 2, scaleX: 1.09 }));
    chart.setOption({ animation: false, backgroundColor: "#fff", grid: grids, xAxis: xAxes, yAxis: yAxes, series, graphic: graphics });
    return () => chart.dispose();
  }, []);
  return <div ref={ref} style={{ position: "fixed", left: 0, top: 0, width: 866, height: 1009, background: "#fff" }} />;
}
